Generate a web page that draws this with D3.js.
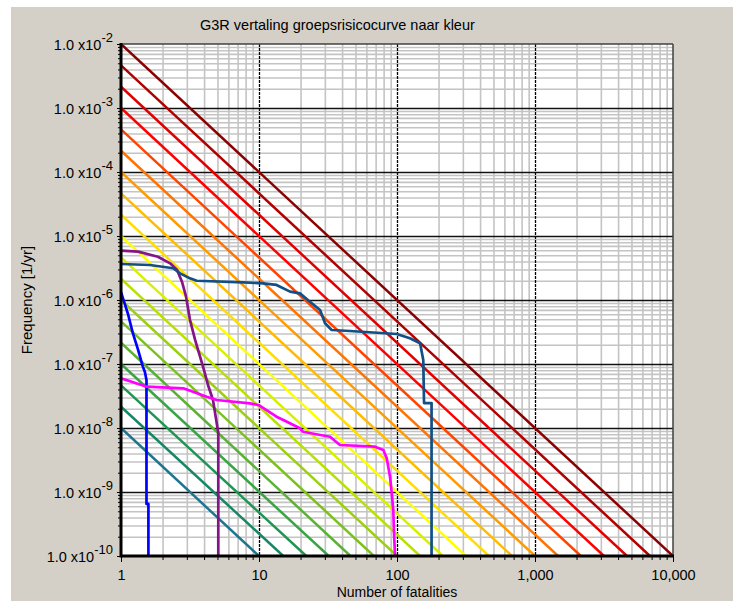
<!DOCTYPE html>
<html>
<head>
<meta charset="utf-8">
<script src="https://cdn.jsdelivr.net/npm/d3@7/dist/d3.min.js"></script>
<style>
body { margin: 0; background: #fff; }
svg text { font-family: "Liberation Sans", Arial, sans-serif; fill: #000; }
</style>
</head>
<body>
<script>
var titleText = "G3R vertaling groepsrisicocurve naar kleur";
var xLabel = "Number of fatalities";
var yLabel = "Frequency [1/yr]";

// tick values
var xTicks = [1, 10, 100, 1000, 10000];
var yTicks = [1e-2, 1e-3, 1e-4, 1e-5, 1e-6, 1e-7, 1e-8, 1e-9, 1e-10];

// colour guide lines: frequency at N = 1 and N where they hit 1e-10
var guideStart = [1e-2, 4.64e-3, 2.15e-3, 1e-3, 4.64e-4, 2.15e-4, 1e-4, 4.64e-5, 2.15e-5, 1e-5,
                  4.64e-6, 2.15e-6, 1e-6, 4.64e-7, 2.15e-7, 1e-7, 4.64e-8, 2.15e-8, 1e-8];
var guideEnd = [10000, 6810, 4640, 3160, 2150, 1470, 1000, 681, 464, 316,
                215, 147, 100, 68, 46, 32, 22, 15, 10];
var guideColors = ["#8b0000", "#b00000", "#e00000", "#ff0000", "#ff4400", "#ff7300", "#ff9a00", "#ffbb00", "#ffdd00", "#ffff00",
                   "#d8ef00", "#b8e000", "#9ad00e", "#7cc020", "#5bb133", "#3aa444", "#1e9651", "#158764", "#1e7590"];

// FN curves
var blueN = [1, 1.12, 1.22, 1.33, 1.44, 1.49, 1.53, 1.53, 1.58, 1.58];
var blueF = [1.33e-6, 6.2e-7, 3.0e-7, 1.66e-7, 9.1e-8, 7.5e-8, 5.6e-8, 6.5e-10, 6.5e-10, 1e-10];

var purpleN = [1, 1.33, 1.85, 2.27, 2.55, 2.77, 2.96, 3.16, 3.44, 3.74, 3.99, 4.27, 4.64, 5.07, 5.07];
var purpleF = [5.9e-6, 5.7e-6, 4.75e-6, 3.74e-6, 2.94e-6, 1.91e-6, 1.13e-6, 4.9e-7, 2.4e-7, 1.3e-7, 8.1e-8, 4.7e-8, 2.74e-8, 8.4e-9, 1e-10];

var navyN = [1, 1.62, 2.39, 2.68, 3.16, 3.54, 7.7, 10.7, 13.4, 16.8, 19.8, 23.4, 27.7, 30.1, 33.6, 45.6, 99.5, 124, 147, 155, 157, 178, 178];
var navyF = [3.65e-6, 3.52e-6, 3.13e-6, 2.61e-6, 2.18e-6, 2.0e-6, 1.89e-6, 1.82e-6, 1.72e-6, 1.35e-6, 1.27e-6, 9.4e-7, 6.98e-7, 4.33e-7, 3.4e-7, 3.28e-7, 2.94e-7, 2.52e-7, 2.11e-7, 1.15e-7, 2.45e-8, 2.45e-8, 1e-10];

var magentaN = [1, 1.54, 2.83, 4.18, 4.94, 8.6, 9.9, 13.4, 15.0, 19.8, 20.8, 32.7, 38.6, 69.3, 79.6, 84.2, 89, 91.6, 94.0, 95.1, 96.8];
var magentaF = [5.98e-8, 4.42e-8, 4.17e-8, 3.08e-8, 2.74e-8, 2.43e-8, 2.29e-8, 1.5e-8, 1.33e-8, 9.9e-9, 8.75e-9, 7.3e-9, 5.42e-9, 5.1e-9, 4.53e-9, 3.4e-9, 1.73e-9, 9.6e-10, 5.2e-10, 2.3e-10, 1e-10];

var curves = [
  {n: blueN, f: blueF, color: "#0000ff"},
  {n: purpleN, f: purpleF, color: "#841488"},
  {n: navyN, f: navyF, color: "#114f86"},
  {n: magentaN, f: magentaF, color: "#ff00ff"}
];

var margin = {top: 44, left: 121},
    width = 552,
    height = 512;

var svg = d3.select("body").append("svg")
    .attr("width", 733)
    .attr("height", 601);

// grey panel
svg.append("rect")
    .attr("x", 11).attr("y", 7)
    .attr("width", 722).attr("height", 594)
    .attr("fill", "#d4d0c8");

svg.append("text")
    .attr("x", 200).attr("y", 29.5)
    .style("font-size", "14.5px")
    .text(titleText);

var g = svg.append("g")
    .attr("transform", "translate(" + margin.left + "," + margin.top + ")");

var x = d3.scaleLog().domain([1, 10000]).range([0, width]);
var y = d3.scaleLog().domain([1e-10, 1e-2]).range([height, 0]);

g.append("rect")
    .attr("width", width).attr("height", height)
    .attr("fill", "#fff");

// minor positions 2..9 within every decade
var minorX = [], minorY = [];
xTicks.slice(0, -1).forEach(function(d) { for (var m = 2; m < 10; m++) minorX.push(d * m); });
yTicks.slice(1).forEach(function(d) { for (var m = 2; m < 10; m++) minorY.push(d * m); });

function gridStyle(sel, color, w, dash) {
  sel.select(".domain").remove();
  sel.selectAll(".tick line")
      .attr("stroke", color)
      .attr("stroke-width", w)
      .attr("stroke-dasharray", dash || null);
}

// minor grid
g.append("g")
    .call(d3.axisBottom(x).tickValues(minorX).tickSize(height).tickFormat(""))
    .call(gridStyle, "#c4c4c4", 1.6);
g.append("g")
    .call(d3.axisLeft(y).tickValues(minorY).tickSize(-width).tickFormat(""))
    .call(gridStyle, "#c4c4c4", 1.6);

// major grid
g.append("g")
    .call(d3.axisLeft(y).tickValues(yTicks.slice(1, -1)).tickSize(-width).tickFormat(""))
    .call(gridStyle, "#111", 1.3);
g.append("g")
    .call(d3.axisBottom(x).tickValues(xTicks.slice(1, -1)).tickSize(height).tickFormat(""))
    .call(gridStyle, "#000", 1.3, "3,1");

g.append("clipPath").attr("id", "clip")
  .append("rect").attr("width", width).attr("height", height);

var plot = g.append("g").attr("clip-path", "url(#clip)");

// guide lines
plot.selectAll(".guide")
    .data(guideStart)
  .enter().append("line")
    .attr("class", "guide")
    .attr("x1", x(1))
    .attr("y1", function(d) { return y(d); })
    .attr("x2", function(d, i) { return x(guideEnd[i]); })
    .attr("y2", y(1e-10))
    .attr("stroke", function(d, i) { return guideColors[i]; })
    .attr("stroke-width", 2.5);

var line = d3.line()
    .x(function(d) { return x(d[0]); })
    .y(function(d) { return y(d[1]); });

plot.selectAll(".curve")
    .data(curves)
  .enter().append("path")
    .attr("class", "curve")
    .attr("d", function(c) { return line(d3.zip(c.n, c.f)); })
    .attr("fill", "none")
    .attr("stroke", function(c) { return c.color; })
    .attr("stroke-width", 2.7)
    .attr("stroke-linejoin", "round");

// frame
g.append("line").attr("x1", 0).attr("x2", width).attr("y1", 0).attr("y2", 0)
    .attr("stroke", "#404040").attr("stroke-width", 1.5);
g.append("line").attr("x1", width).attr("x2", width).attr("y1", 0).attr("y2", height)
    .attr("stroke", "#404040").attr("stroke-width", 1.5);

// x axis
var xAxis = g.append("g")
    .attr("transform", "translate(0," + height + ")");
xAxis.append("g")
    .call(d3.axisBottom(x).tickValues(minorX).tickSize(4).tickFormat(""))
    .call(function(s) { s.select(".domain").remove(); });
xAxis.append("g")
    .call(d3.axisBottom(x).tickValues(xTicks).tickSize(6).tickFormat(d3.format(",")))
    .call(function(s) {
      s.select(".domain").remove();
      s.selectAll("text")
          .attr("y", 0).attr("dy", null)
          .attr("transform", "translate(0,24)")
          .style("font-size", "14.5px")
          .attr("font-family", null);
    });

// y axis
var yAxis = g.append("g");
yAxis.append("g")
    .call(d3.axisLeft(y).tickValues(minorY).tickSize(3).tickFormat(""))
    .call(function(s) { s.select(".domain").remove(); });
yAxis.append("g")
    .call(d3.axisLeft(y).tickValues(yTicks).tickSize(4).tickFormat(""))
    .call(function(s) {
      s.select(".domain").remove();
      var t = s.selectAll(".tick").append("text")
          .attr("x", -8).attr("y", 5)
          .attr("text-anchor", "end")
          .style("font-size", "14.5px");
      t.append("tspan").text("1.0 x10");
      t.append("tspan")
          .attr("dy", -8)
          .style("font-size", "13px")
          .text(function(d) { return Math.round(Math.log10(d)); });
    });

g.append("line").attr("x1", 0).attr("x2", 0).attr("y1", -1).attr("y2", height + 1.5)
    .attr("stroke", "#000").attr("stroke-width", 3);
g.append("line").attr("x1", 0).attr("x2", width + 1).attr("y1", height).attr("y2", height)
    .attr("stroke", "#000").attr("stroke-width", 3);

svg.append("text")
    .attr("x", margin.left + width / 2).attr("y", 597)
    .attr("text-anchor", "middle")
    .style("font-size", "14px")
    .text(xLabel);

svg.append("text")
    .attr("transform", "translate(31.5," + (margin.top + height / 2) + ") rotate(-90)")
    .attr("text-anchor", "middle")
    .style("font-size", "15px")
    .text(yLabel);
</script>
</body>
</html>
